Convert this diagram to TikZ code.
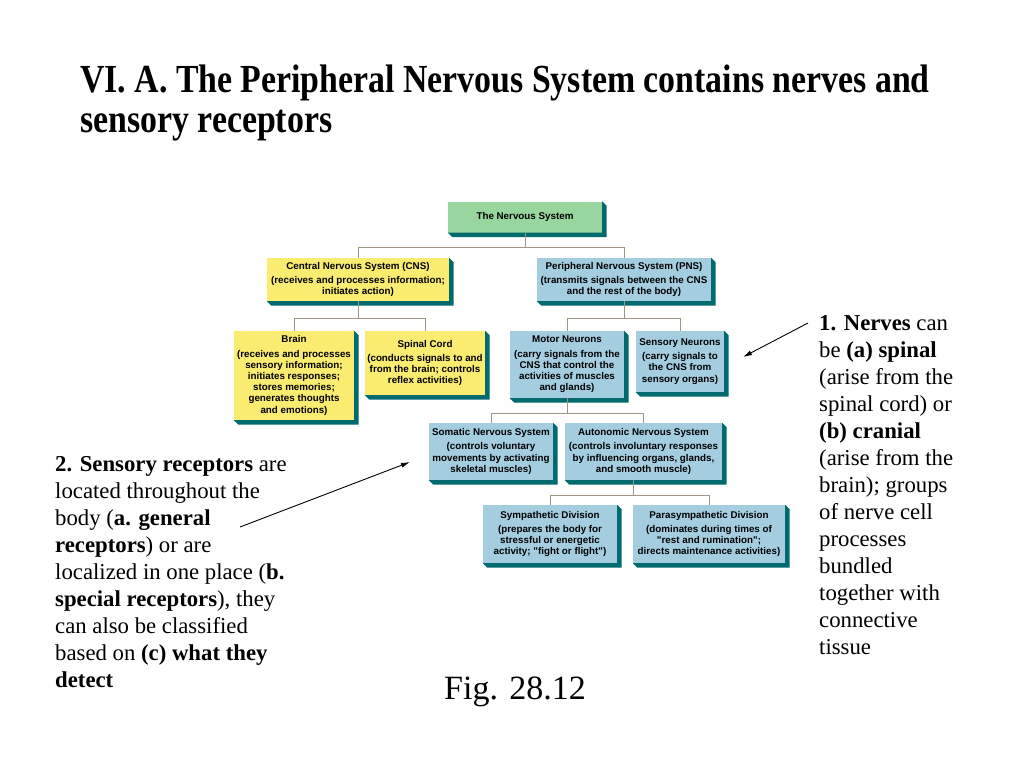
\documentclass[tikz,border=0pt]{standalone}
\usepackage{fontspec}
\setmainfont{Liberation Serif}
\newfontfamily\chartfont{Liberation Sans}
\newfontfamily\headfont[FakeStretch=0.85]{Liberation Serif}
\usetikzlibrary{arrows.meta,calc}
\definecolor{nsgreen}{RGB}{152,214,160}
\definecolor{cnsyellow}{RGB}{250,236,112}
\definecolor{pnsblue}{RGB}{164,206,224}
\definecolor{boxshadow}{RGB}{0,106,110}
\definecolor{linkbrown}{RGB}{158,148,128}
\tikzset{
  chartbox/.style={rectangle,inner sep=2pt,align=center,text=black,
    font=\chartfont\fontsize{9.8}{11.2}\selectfont\bfseries},
  boxsize/.style 2 args={minimum width=#1pt,minimum height=#2pt},
  nsbox/.style={chartbox,fill=nsgreen},
  cnsbox/.style={chartbox,fill=cnsyellow},
  pnsbox/.style={chartbox,fill=pnsblue},
  link/.style={draw=linkbrown,line width=0.9pt},
  pointer/.style={-{Latex[length=9pt,width=5pt]},line width=0.9pt,black},
  heading/.style={font=\headfont\bfseries\fontsize{39.8}{40}\selectfont,
    align=left,anchor=north west,inner sep=0pt},
  note/.style={font=\fontsize{22.75}{27}\selectfont,align=left,
    anchor=north west,inner sep=0pt}
}

\begin{document}
\begin{tikzpicture}[x=1pt,y=-1pt]
  \useasboundingbox[fill=white] (0,0) rectangle (1024,768);

  % heading
  \node[heading] (head) at (80,65)
    {VI. A. The Peripheral Nervous System contains nerves and\\sensory receptors};

  % chart boxes
  \node[nsbox,boxsize={154}{31}] (ns) at (525,217) {The Nervous System};
  \node[cnsbox,boxsize={182}{43}] (cns) at (358,279.5)
    {Central Nervous System (CNS)\\[3pt](receives and processes information;\\initiates action)};
  \node[pnsbox,boxsize={174}{43}] (pns) at (624,279.5)
    {Peripheral Nervous System (PNS)\\[3pt](transmits signals between the CNS\\and the rest of the body)};
  \node[cnsbox,boxsize={120}{89}] (brain) at (294,375.5)
    {Brain\\[3pt](receives and processes\\sensory information;\\initiates responses;\\stores memories;\\generates thoughts\\and emotions)};
  \node[cnsbox,boxsize={120}{64}] (spinal) at (425,363)
    {Spinal Cord\\[3pt](conducts signals to and\\from the brain; controls\\reflex activities)};
  \node[pnsbox,boxsize={114}{67}] (motor) at (567,364.5)
    {Motor Neurons\\[3pt](carry signals from the\\CNS that control the\\activities of muscles\\and glands)};
  \node[pnsbox,boxsize={88}{61}] (sensory) at (680,361.5)
    {Sensory Neurons\\[3pt](carry signals to\\the CNS from\\sensory organs)};
  \node[pnsbox,boxsize={124}{57}] (somatic) at (491,451.5)
    {Somatic Nervous System\\[3pt](controls voluntary\\movements by activating\\skeletal muscles)};
  \node[pnsbox,boxsize={157}{57}] (auto) at (643.5,451.5)
    {Autonomic Nervous System\\[3pt](controls involuntary responses\\by influencing organs, glands,\\and smooth muscle)};
  \node[pnsbox,boxsize={134}{58}] (symp) at (550,534)
    {Sympathetic Division\\[3pt](prepares the body for\\stressful or energetic\\activity; "fight or flight")};
  \node[pnsbox,boxsize={152}{58}] (para) at (709,534)
    {Parasympathetic Division\\[3pt](dominates during times of\\"rest and rumination";\\directs maintenance activities)};

  % 3D edges
  \foreach \b in {ns,cns,pns,brain,spinal,motor,sensory,somatic,auto,symp,para}
    \fill[boxshadow] (\b.north east) -- ++(4.5,4.5) -- ($(\b.south east)+(4.5,4.5)$)
      -- ($(\b.south west)+(4.5,4.5)$) -- (\b.south west) -- (\b.south east) -- cycle;

  % connectors
  \coordinate (nsbus) at (525,247);
  \coordinate (cnsbus) at (358,318);
  \coordinate (pnsbus) at (624,318);
  \coordinate (motorbus) at (567,413);
  \coordinate (autobus) at (633,495);
  \draw[link] (ns) -- (nsbus) -| (cns);
  \draw[link] (nsbus) -| (pns);
  \draw[link] (cns) -- (cnsbus) -| (brain);
  \draw[link] (cnsbus) -| (spinal);
  \draw[link] (pns) -- (pnsbus) -| (motor);
  \draw[link] (pnsbus) -| (sensory);
  \draw[link] (motor) -- (motorbus) -| (somatic);
  \draw[link] (motorbus) -| (auto);
  \draw[link] (auto.south -| autobus) -- (autobus) -| (symp);
  \draw[link] (autobus) -| (para);

  % side notes
  \node[note] (nerves) at (819,315.5)
    {\textbf{1. Nerves} can\\be \textbf{(a) spinal}\\(arise from the\\spinal cord) or\\\textbf{(b) cranial}\\(arise from the\\brain); groups\\of nerve cell\\processes\\bundled\\together with\\connective\\tissue};
  \node[note] (receptors) at (55,456.5)
    {\textbf{2. Sensory receptors} are\\located throughout the\\body (\textbf{a. general}\\\textbf{receptors}) or are\\localized in one place (\textbf{b.}\\\textbf{special receptors}), they\\can also be classified\\based on \textbf{(c) what they}\\\textbf{detect}};
  \node[font=\fontsize{34}{40}\selectfont,anchor=base,inner sep=0pt] (fig) at (515,699) {Fig. 28.12};

  % pointers
  \coordinate (nervetail) at (808,323);
  \coordinate (nervetip) at (743,357);
  \coordinate (receptail) at (240,527);
  \coordinate (receptip) at (410,462);
  \draw[pointer] (nervetail) -- (nervetip);
  \draw[pointer] (receptail) -- (receptip);
\end{tikzpicture}
\end{document}
